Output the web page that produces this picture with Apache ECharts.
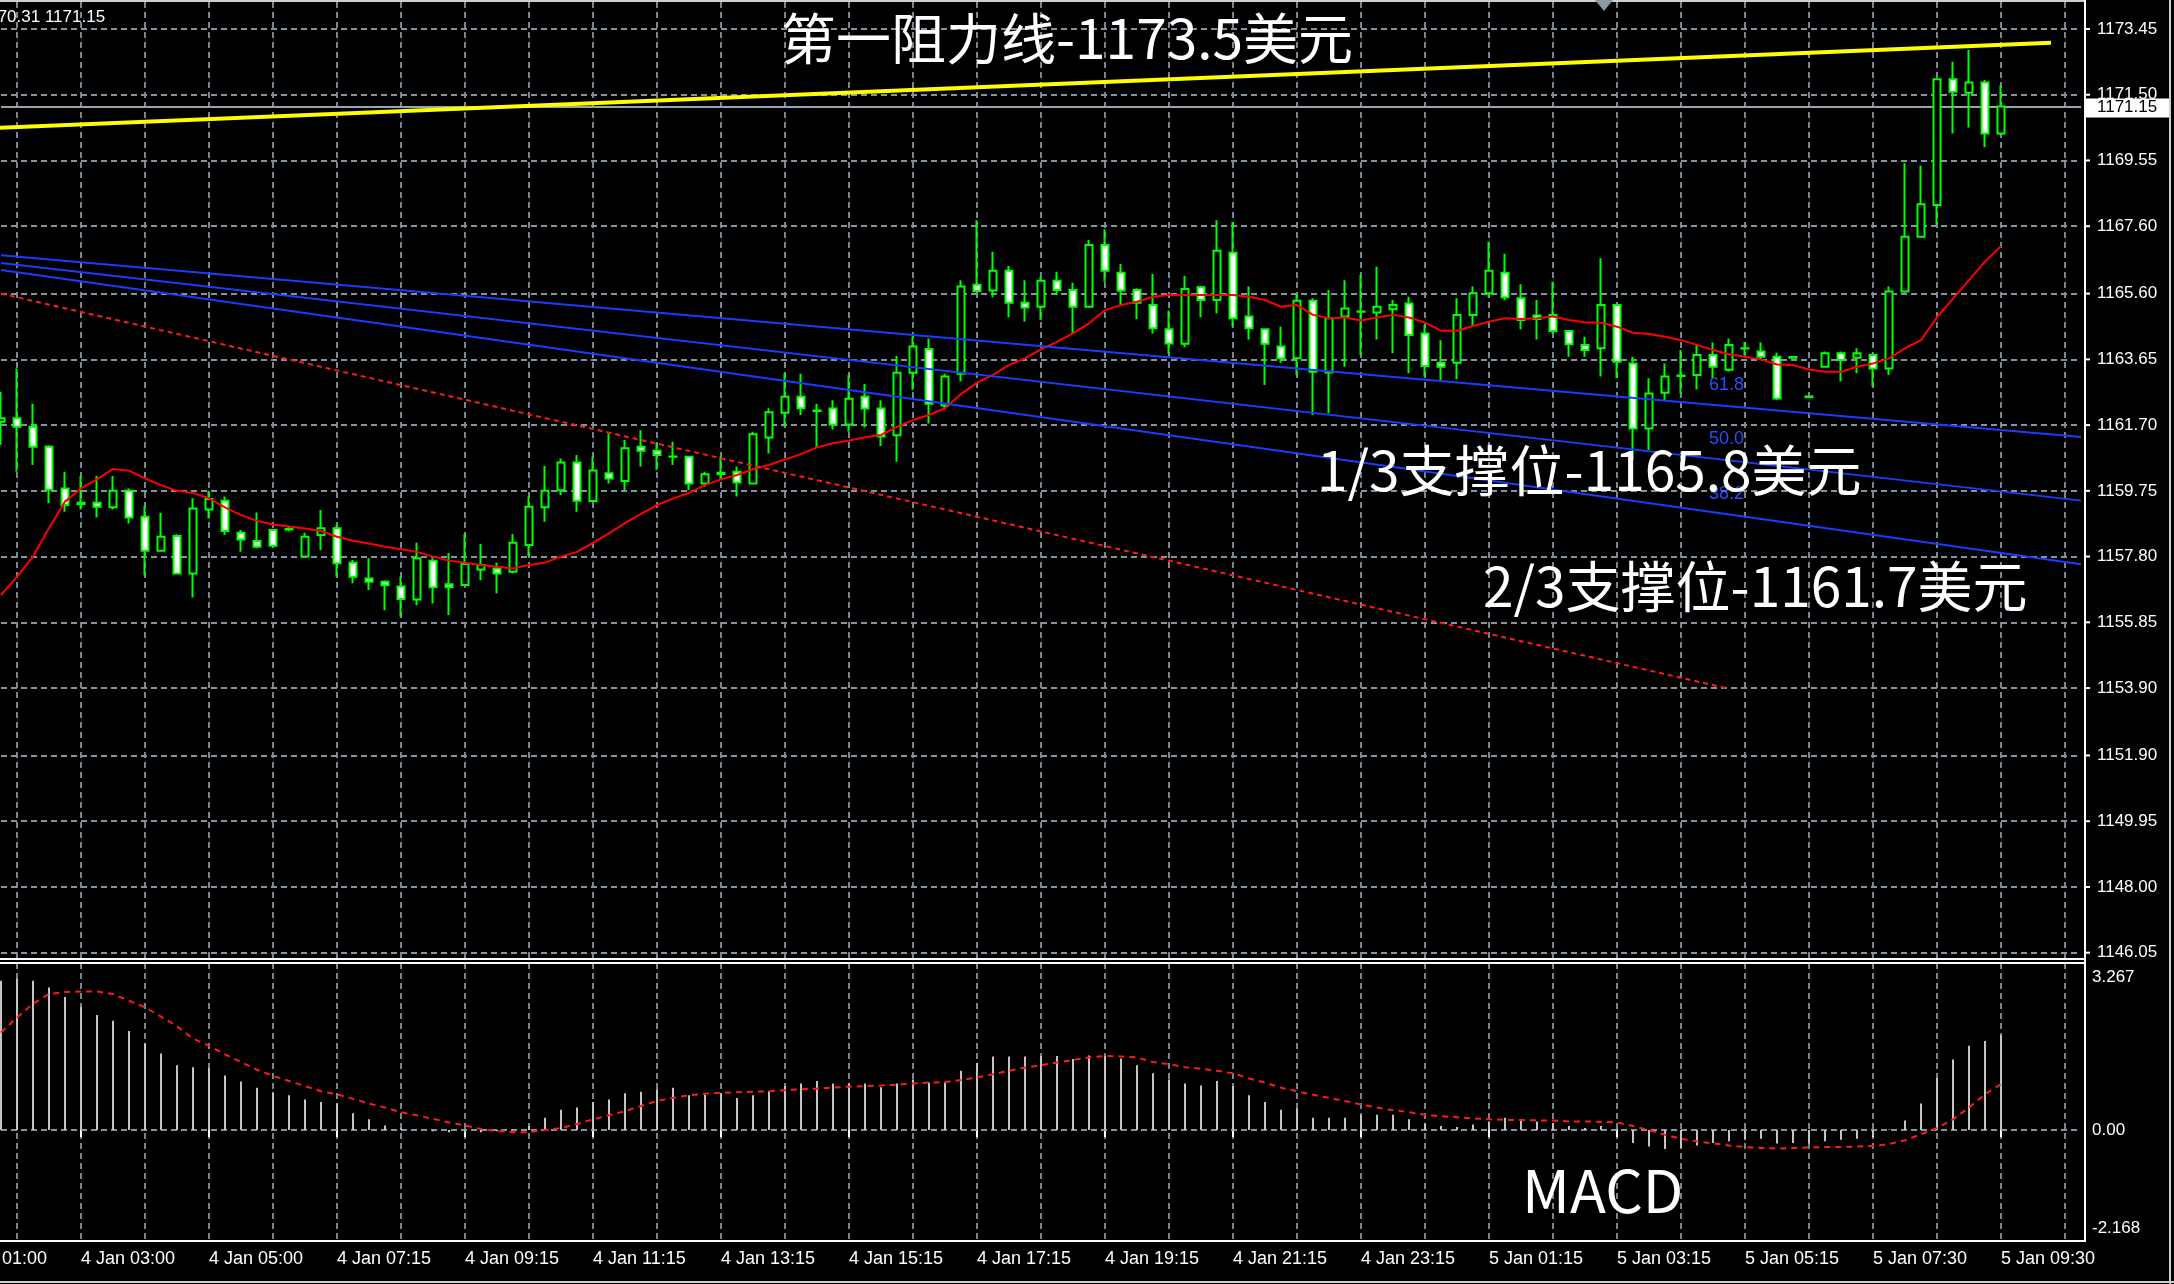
<!DOCTYPE html>
<html><head><meta charset="utf-8">
<script src="https://cdn.jsdelivr.net/npm/echarts/dist/echarts.min.js"></script>
<style>html,body{margin:0;padding:0;background:#000;overflow:hidden}#c{width:2174px;height:1284px}</style>
</head><body><div id="c"></div>
<script>
// ---------------- data ----------------
const priceTicks = [1146.05,1148.00,1149.95,1151.90,1153.90,1155.85,1157.80,1159.75,1161.70,1163.65,1165.60,1167.60,1169.55,1171.50,1173.45];
const lastPrice = 1171.15;
const macdTicks = [3.267, 0, -2.168];
const macdTickLabels = ['3.267', '0.00', '-2.168'];
const skippedSlots = ['4 Jan 06:00', '5 Jan 06:15'];
const hiddenFirstLabel = '4 Jan 01:00';

const opens = [1161.80,1161.90,1161.65,1161.06,1159.82,1159.40,1159.40,1159.26,1159.75,1158.98,1157.97,1158.41,1157.30,1159.20,1159.46,1158.51,1158.26,1158.59,1158.60,1157.80,1158.44,1158.64,1157.62,1157.15,1157.05,1156.91,1156.53,1157.68,1156.98,1156.96,1157.42,1157.45,1157.35,1158.14,1159.26,1159.77,1160.59,1159.45,1160.27,1160.04,1161.06,1160.94,1160.77,1160.76,1159.97,1160.25,1160.32,1159.97,1161.33,1162.07,1162.54,1162.13,1162.19,1161.72,1162.54,1162.19,1161.40,1163.25,1163.96,1162.28,1163.22,1165.86,1165.69,1166.28,1165.33,1165.21,1165.98,1165.71,1165.21,1167.04,1166.22,1165.71,1165.26,1164.54,1164.11,1165.79,1165.41,1166.81,1164.92,1164.54,1164.03,1163.68,1165.39,1163.26,1164.92,1165.07,1165.04,1165.14,1165.31,1164.42,1163.55,1163.55,1164.97,1165.61,1166.22,1165.46,1164.95,1164.97,1164.49,1164.08,1163.98,1165.26,1163.53,1161.60,1162.66,1163.16,1163.19,1163.78,1163.34,1163.98,1163.88,1163.73,1163.72,1162.55,1163.43,1163.83,1163.70,1163.78,1163.38,1165.66,1167.29,1168.23,1171.96,1171.56,1171.86,1170.35];
const closes = [1161.90,1161.65,1161.06,1159.79,1159.33,1159.36,1159.28,1159.75,1158.96,1157.97,1158.39,1157.30,1159.23,1159.51,1158.56,1158.31,1158.09,1158.12,1158.62,1158.39,1158.64,1157.60,1157.20,1157.05,1156.95,1156.54,1157.75,1156.89,1156.89,1157.58,1157.55,1157.30,1158.21,1159.28,1159.75,1160.59,1159.46,1160.35,1160.12,1161.01,1160.94,1160.81,1160.76,1159.97,1160.24,1160.29,1160.00,1161.43,1162.08,1162.54,1162.20,1162.12,1161.72,1162.48,1162.19,1161.36,1163.25,1164.03,1162.33,1163.14,1165.81,1165.68,1166.28,1165.33,1165.19,1165.98,1165.71,1165.21,1167.04,1166.28,1165.69,1165.33,1164.57,1164.12,1165.74,1165.41,1166.87,1164.87,1164.57,1164.11,1163.68,1165.39,1163.28,1164.87,1165.16,1165.06,1165.21,1165.26,1164.37,1163.45,1163.43,1164.97,1165.61,1166.28,1165.49,1164.82,1164.85,1164.49,1164.10,1163.93,1165.26,1163.58,1161.60,1162.64,1163.14,1163.17,1163.78,1163.43,1164.08,1163.97,1163.73,1162.49,1163.70,1162.53,1163.83,1163.63,1163.83,1163.38,1165.66,1167.29,1168.25,1171.96,1171.59,1171.86,1170.35,1171.15];
const lows = [1161.11,1160.32,1160.52,1159.38,1159.13,1159.20,1158.96,1159.20,1158.78,1157.25,1157.94,1157.28,1156.59,1158.93,1158.44,1157.94,1158.04,1158.09,1158.55,1157.78,1157.99,1157.20,1157.01,1156.81,1156.21,1156.02,1156.36,1156.41,1156.07,1156.96,1157.10,1156.71,1157.30,1157.82,1158.83,1159.63,1159.13,1159.43,1159.97,1159.77,1160.47,1160.37,1160.52,1159.77,1159.87,1160.07,1159.58,1159.95,1160.86,1161.65,1162.00,1161.06,1161.57,1161.50,1161.63,1161.08,1160.61,1162.74,1161.75,1162.20,1162.99,1165.63,1165.49,1164.90,1164.77,1164.82,1165.56,1164.42,1165.19,1165.95,1165.26,1164.84,1164.42,1163.81,1164.01,1164.90,1165.02,1164.62,1164.24,1162.89,1163.55,1163.19,1162.00,1162.05,1163.43,1163.78,1164.24,1163.83,1163.24,1163.14,1163.04,1163.06,1164.64,1165.49,1165.41,1164.54,1164.24,1164.42,1163.73,1163.73,1163.14,1163.09,1160.66,1160.96,1162.44,1162.64,1162.76,1163.09,1163.29,1163.78,1163.63,1162.44,1163.68,1162.53,1163.41,1162.99,1163.24,1162.84,1163.19,1165.63,1167.27,1167.64,1170.35,1170.53,1169.94,1170.31];
const highs = [1162.69,1163.38,1162.33,1161.10,1160.32,1160.19,1160.19,1160.19,1159.82,1159.30,1159.10,1158.46,1159.53,1159.75,1159.58,1158.59,1159.11,1158.61,1158.70,1158.51,1159.18,1158.74,1157.70,1157.75,1157.10,1157.20,1158.21,1157.75,1157.91,1158.47,1158.17,1157.62,1158.47,1159.58,1160.49,1160.71,1160.81,1160.76,1161.45,1161.26,1161.55,1161.16,1161.21,1160.78,1160.32,1160.76,1160.47,1161.50,1162.20,1163.24,1163.22,1162.33,1162.44,1163.19,1162.92,1162.44,1163.75,1164.32,1164.27,1163.22,1166.00,1167.78,1166.84,1166.42,1166.00,1166.10,1166.25,1165.92,1167.19,1167.51,1166.48,1165.76,1166.18,1165.09,1166.12,1165.83,1167.78,1167.73,1165.81,1164.54,1164.62,1165.59,1165.46,1165.71,1166.00,1166.15,1166.40,1165.41,1165.51,1164.67,1164.22,1165.46,1165.81,1167.14,1166.78,1165.88,1165.41,1165.95,1164.52,1164.32,1166.65,1165.31,1163.73,1163.09,1163.53,1163.93,1164.08,1164.15,1164.27,1164.17,1164.15,1163.85,1163.72,1162.55,1163.88,1163.88,1163.98,1163.83,1165.81,1169.47,1169.39,1171.99,1172.48,1172.83,1171.94,1171.79];
const maLine = [1156.66,1157.20,1157.80,1158.64,1159.43,1159.82,1160.09,1160.40,1160.35,1160.12,1159.92,1159.75,1159.69,1159.53,1159.26,1159.03,1158.86,1158.75,1158.69,1158.63,1158.56,1158.39,1158.27,1158.19,1158.09,1158.02,1157.94,1157.80,1157.68,1157.62,1157.55,1157.50,1157.45,1157.55,1157.62,1157.80,1157.94,1158.21,1158.49,1158.79,1159.07,1159.33,1159.52,1159.69,1159.92,1160.09,1160.22,1160.39,1160.52,1160.68,1160.84,1161.04,1161.16,1161.24,1161.34,1161.41,1161.65,1161.85,1162.00,1162.20,1162.62,1162.96,1163.19,1163.48,1163.68,1163.95,1164.17,1164.42,1164.72,1165.11,1165.26,1165.36,1165.51,1165.56,1165.56,1165.56,1165.56,1165.56,1165.51,1165.41,1165.21,1165.26,1164.97,1164.87,1164.89,1164.80,1164.89,1164.97,1164.89,1164.74,1164.50,1164.50,1164.64,1164.77,1164.87,1164.85,1164.87,1164.92,1164.82,1164.75,1164.74,1164.62,1164.44,1164.40,1164.32,1164.22,1164.08,1163.93,1163.80,1163.73,1163.65,1163.50,1163.48,1163.35,1163.28,1163.28,1163.43,1163.53,1163.68,1163.98,1164.22,1164.90,1165.45,1166.00,1166.55,1167.01];
const macdMain = [2.92,2.96,2.92,2.79,2.60,2.40,2.25,2.14,1.94,1.70,1.50,1.27,1.23,1.22,1.07,0.95,0.83,0.74,0.68,0.60,0.55,0.52,0.33,0.21,0.09,0.03,0.00,-0.02,-0.04,-0.05,-0.04,-0.02,0.01,0.08,0.24,0.40,0.44,0.55,0.60,0.72,0.75,0.80,0.83,0.68,0.69,0.72,0.63,0.68,0.76,0.86,0.91,0.96,0.91,0.91,0.91,0.84,0.91,0.99,0.93,0.93,1.16,1.31,1.44,1.44,1.44,1.45,1.45,1.39,1.46,1.45,1.40,1.27,1.11,0.99,0.91,0.87,0.96,0.86,0.68,0.55,0.40,0.42,0.24,0.24,0.24,0.30,0.30,0.30,0.21,0.13,0.08,0.06,0.11,0.17,0.24,0.21,0.17,0.14,0.08,0.04,0.08,0.02,-0.25,-0.32,-0.37,-0.35,-0.30,-0.25,-0.22,-0.19,-0.17,-0.26,-0.25,-0.26,-0.22,-0.19,-0.17,-0.12,0.01,0.19,0.52,1.02,1.38,1.65,1.74,1.86];
const macdSignal = [1.91,2.20,2.47,2.66,2.70,2.71,2.71,2.66,2.53,2.40,2.22,2.03,1.79,1.65,1.48,1.33,1.18,1.06,0.96,0.86,0.76,0.70,0.61,0.52,0.44,0.35,0.29,0.22,0.15,0.09,0.02,-0.02,-0.04,-0.04,0.00,0.04,0.12,0.21,0.29,0.37,0.47,0.57,0.63,0.68,0.71,0.73,0.74,0.75,0.76,0.78,0.80,0.81,0.83,0.85,0.86,0.87,0.89,0.91,0.93,0.94,0.98,1.03,1.09,1.16,1.22,1.27,1.32,1.37,1.42,1.45,1.44,1.42,1.33,1.29,1.23,1.20,1.16,1.11,1.01,0.93,0.83,0.76,0.69,0.63,0.57,0.50,0.44,0.39,0.35,0.30,0.27,0.25,0.23,0.21,0.20,0.20,0.19,0.19,0.17,0.17,0.16,0.15,0.08,0.00,-0.09,-0.17,-0.22,-0.26,-0.30,-0.33,-0.35,-0.36,-0.35,-0.34,-0.33,-0.33,-0.32,-0.31,-0.27,-0.20,-0.08,0.04,0.21,0.44,0.70,0.90];

// trend objects: [bar slot, price] end points
const resistanceLine = [[0, 1170.52], [128, 1173.04]];
const channelTop = [[0, 1166.74], [130, 1161.35]];
const channelMid = [[0, 1166.51], [130, 1159.46]];
const channelBot = [[0, 1166.30], [130, 1157.57]];
const redTrend = [[0, 1165.60], [108, 1153.88]];
const fibLevels = [['61.8', 1162.89], ['50.0', 1161.29], ['38.2', 1159.66]];
const fibLabelBar = 107;

// ---------------- categories ----------------
const TAIL = 5;
const N = opens.length + TAIL;
const pad = n => (n < 10 ? '0' : '') + n;
const cats = [];
{
  let t = Date.UTC(2015, 0, 4, 1, 45);
  while (cats.length < N) {
    const d = new Date(t);
    const s = d.getUTCDate() + ' Jan ' + pad(d.getUTCHours()) + ':' + pad(d.getUTCMinutes());
    t += 15 * 60000;
    if (skippedSlots.includes(s)) continue;
    cats.push(s);
  }
}
const bySlot = arr => cats.map((c, s) => (s < arr.length ? arr[s] : '-'));
const candleData = cats.map((c, s) => (s < opens.length ? [opens[s], closes[s], lows[s], highs[s]] : '-'));
const seg = pts => pts.map(p => [cats[p[0]], p[1]]);
const labelEvery = idx => idx >= 5 && (idx - 5) % 8 === 0;
const gridEvery = idx => idx >= 1 && (idx - 1) % 4 === 0;

const GRID = '#8693a0';
const gridStyle = { color: GRID, type: [6, 4], width: 1.8 };

const option = {
  backgroundColor: '#000',
  animation: false,
  grid: [
    { left: 1, width: 16 * (N - 1), top: 2, height: 957 },
    { left: 1, width: 16 * (N - 1), top: 963, height: 278 }
  ],
  xAxis: [
    { type: 'category', gridIndex: 0, data: cats, boundaryGap: false,
      axisLine: { show: false }, axisTick: { show: false }, axisLabel: { show: false },
      splitLine: { show: true, interval: gridEvery, lineStyle: gridStyle } },
    { type: 'category', gridIndex: 1, data: cats, boundaryGap: false,
      axisLine: { show: false },
      axisTick: { show: true, interval: labelEvery, length: 7, lineStyle: { color: '#fff', width: 2 } },
      axisLabel: { show: true, interval: labelEvery, align: 'left', margin: 9, color: '#fff', fontSize: 18, fontFamily: 'Liberation Sans' },
      splitLine: { show: true, interval: gridEvery, lineStyle: gridStyle } }
  ],
  yAxis: [
    { type: 'value', gridIndex: 0, min: 1145.863, max: 1174.251, show: false },
    { type: 'value', gridIndex: 1, min: -2.168, max: 3.267, show: false }
  ],
  series: [
    { name: 'price', type: 'candlestick', xAxisIndex: 0, yAxisIndex: 0, z: 3, barWidth: 7,
      data: candleData,
      itemStyle: { color: '#000', color0: '#fff', borderColor: '#00ff00', borderColor0: '#00ff00', borderColorDoji: '#00ff00', borderWidth: 2 } },
    { name: 'ma', type: 'line', xAxisIndex: 0, yAxisIndex: 0, z: 4, data: bySlot(maLine), showSymbol: false, symbol: 'none',
      lineStyle: { color: '#ff0000', width: 2 },
      markLine: { z: 1, silent: true, symbol: 'none', animation: false, label: { show: false },
        lineStyle: gridStyle,
        data: priceTicks.map(v => ({ yAxis: v })).concat([{ yAxis: lastPrice, lineStyle: { type: 'solid', color: '#98a3ad', width: 2 } }]) } },
    { type: 'line', xAxisIndex: 0, yAxisIndex: 0, z: 4, data: seg(channelTop), symbol: 'none', lineStyle: { color: '#1a3cff', width: 2 } },
    { type: 'line', xAxisIndex: 0, yAxisIndex: 0, z: 4, data: seg(channelMid), symbol: 'none', lineStyle: { color: '#1a3cff', width: 2 } },
    { type: 'line', xAxisIndex: 0, yAxisIndex: 0, z: 4, data: seg(channelBot), symbol: 'none', lineStyle: { color: '#1a3cff', width: 2 } },
    { type: 'line', xAxisIndex: 0, yAxisIndex: 0, z: 4, data: seg(redTrend), symbol: 'none', lineStyle: { color: '#ff1a1a', width: 2, type: [5, 4] } },
    { type: 'line', xAxisIndex: 0, yAxisIndex: 0, z: 4, data: seg(resistanceLine), symbol: 'none', lineStyle: { color: '#ffff00', width: 4, cap: 'square' } },
    { name: 'macd', type: 'bar', xAxisIndex: 1, yAxisIndex: 1, z: 3, barWidth: 2, data: bySlot(macdMain),
      itemStyle: { color: '#c4c4c4' },
      markLine: { z: 1, silent: true, symbol: 'none', animation: false, label: { show: false }, lineStyle: gridStyle, data: [{ yAxis: 0 }] } },
    { name: 'signal', type: 'line', xAxisIndex: 1, yAxisIndex: 1, z: 4, data: bySlot(macdSignal), symbol: 'none', showSymbol: false,
      lineStyle: { color: '#ff1a1a', width: 2, type: [6, 5] } }
  ]
};

const chart = echarts.init(document.getElementById('c'), null, { renderer: 'canvas', width: 2174, height: 1284 });
chart.setOption(option);

// ---------------- overlays placed via the chart's scales ----------------
const g = [];
const txt = (x, y, text, font, fill, align, vAlign, z, extra) => Object.assign({
  type: 'text', x, y, z: z || 100,
  style: { text, font, fill, textAlign: align || 'left', textVerticalAlign: vAlign || 'middle', align: align || 'left', verticalAlign: vAlign || 'middle' }
}, extra || {});
const ln = (x1, y1, x2, y2, color, w) => ({ type: 'line', z: 90, shape: { x1, y1, x2, y2 }, style: { stroke: color, lineWidth: w } });
const AX = 2085;
const axisFont = '17px "Liberation Sans"';

priceTicks.forEach(v => {
  const y = chart.convertToPixel({ yAxisIndex: 0 }, v);
  g.push(txt(2097, y, v.toFixed(2), axisFont, '#fff'));
  g.push(ln(AX, y, AX + 5, y, '#fff', 2));
});
{
  const y = chart.convertToPixel({ yAxisIndex: 0 }, lastPrice);
  g.push({ type: 'rect', z: 101, shape: { x: 2086, y: y - 8, width: 83, height: 19 }, style: { fill: '#fff' } });
  g.push(txt(2097, y + 1, lastPrice.toFixed(2), axisFont, '#000', 'left', 'middle', 102));
}
macdTicks.forEach((v, k) => {
  let y = chart.convertToPixel({ yAxisIndex: 1 }, v);
  if (k === 0) y += 14;
  if (k === macdTicks.length - 1) y -= 13;
  g.push(txt(2092, y, macdTickLabels[k], axisFont, '#fff'));
});
// time label of the bar three slots left of the first visible bar (cut by the edge)
{
  const x0 = chart.convertToPixel({ xAxisIndex: 1 }, cats[0]) - 48;
  const yb = chart.convertToPixel({ yAxisIndex: 1 }, -2.168);
  g.push(txt(x0, yb + 9, hiddenFirstLabel, '18px "Liberation Sans"', '#fff', 'left', 'top', 100));
}
// fib level labels
{
  const x = chart.convertToPixel({ xAxisIndex: 0 }, cats[fibLabelBar]) - 4;
  fibLevels.forEach(f => {
    const y = chart.convertToPixel({ yAxisIndex: 0 }, f[1]);
    g.push(txt(x, y, f[0], '18px "Liberation Sans"', '#2a4cff', 'left', 'middle', 95));
  });
}
// frame
g.push(ln(0, 1, AX, 1, '#cfcfcf', 2));
g.push(ln(0, 959, AX, 959, '#ffffff', 2));
g.push(ln(0, 963, AX, 963, '#ffffff', 2));
g.push(ln(0, 1241, AX, 1241, '#ffffff', 2));
g.push(ln(AX, 0, AX, 1242, '#ffffff', 2));
g.push(ln(2170, 0, 2170, 1284, '#cfcfcf', 2));
g.push(ln(0, 1282, 2174, 1282, '#cfcfcf', 2));
g.push({ type: 'polygon', z: 95, shape: { points: [[1595, 0], [1613, 0], [1604, 11]] }, style: { fill: '#8c98a4' } });
// header text
g.push(txt(-20, 17, '1170.31 1171.15', axisFont, '#fff'));
// annotations
const bigFont = '55px "Noto Sans CJK SC"';
g.push(txt(781, 38, '第一阻力线-1173.5美元', bigFont, '#fff', 'left', 'middle', 110));
g.push(txt(1317, 470, '1/3支撑位-1165.8美元', bigFont, '#fff', 'left', 'middle', 110));
g.push(txt(1483, 586, '2/3支撑位-1161.7美元', bigFont, '#fff', 'left', 'middle', 110));
g.push(txt(1522, 1191, 'MACD', '59px "Noto Sans CJK SC"', '#fff', 'left', 'middle', 110));

chart.setOption({ graphic: { elements: g } });
</script>
</body></html>
